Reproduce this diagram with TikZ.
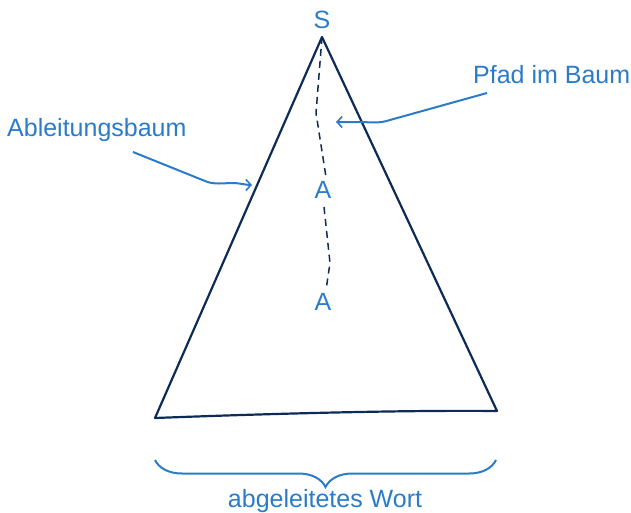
\documentclass[tikz,border=0pt]{standalone}
\usepackage{fontspec}
\setmainfont{Liberation Sans}
\usetikzlibrary{arrows.meta,decorations.pathreplacing}
\definecolor{lblue}{HTML}{2A7BC9}
\definecolor{navy}{HTML}{0D2B57}
\begin{document}
\begin{tikzpicture}[x=1pt,y=-1pt,
  lbl/.style={text=lblue,font=\fontsize{25}{30}\selectfont,inner sep=0pt},
  tri/.style={draw=navy,line width=2.2pt,line join=round},
  pathline/.style={draw=navy,line width=1.5pt,dash pattern=on 7pt off 5pt},
  pointer/.style={draw=lblue,line width=2pt,-{Straight Barb[length=5pt,width=11pt,line width=1.6pt]}},
  bracestyle/.style={draw=lblue,line width=2pt,decorate,decoration={brace,amplitude=27pt}}]
\useasboundingbox (0,0) rectangle (631,512);
% labels
\node[lbl,anchor=base] (S) at (322,28) {S};
\node[lbl,anchor=base] (A1) at (323,198) {A};
\node[lbl,anchor=base] (A2) at (323,310) {A};
\node[lbl,anchor=base west] (abl) at (7,136) {Ableitungsbaum};
\node[lbl,anchor=base west] (pfad) at (473,83) {Pfad im Baum};
\node[lbl,anchor=base] (wort) at (325,507) {abgeleitetes Wort};
% triangle
\coordinate (top) at (322,37);
\coordinate (bl) at (155,418);
\coordinate (br) at (497,411);
\draw[tri] (top) -- (bl) .. controls (260,414) and (400,410) .. (br) -- cycle;
% dashed path
\coordinate (p1) at (316,113);
\coordinate (p2) at (326,177);
\coordinate (p3) at (324,207);
\coordinate (p4) at (330,263);
\coordinate (p5) at (326,290);
\draw[pathline] (top) -- (p1) -- (p2);
\draw[pathline] (p3) -- (p4) -- (p5);
% pointers
\coordinate (ablS) at (133,152);
\coordinate (ablE) at (252,185);
\draw[pointer] (ablS) -- (205,181) .. controls (214,185) and (224,183) .. (232,183) .. controls (240,183) and (246,185) .. (ablE);
\coordinate (pfS) at (487,93);
\coordinate (pfE) at (336,122);
\draw[pointer] (pfS) -- (390,120) .. controls (378,124) and (370,122) .. (360,122) -- (pfE);
% brace
\coordinate (brL) at (155,460);
\coordinate (brR) at (496,460);
\draw[bracestyle] (brR) -- (brL);
\end{tikzpicture}
\end{document}
